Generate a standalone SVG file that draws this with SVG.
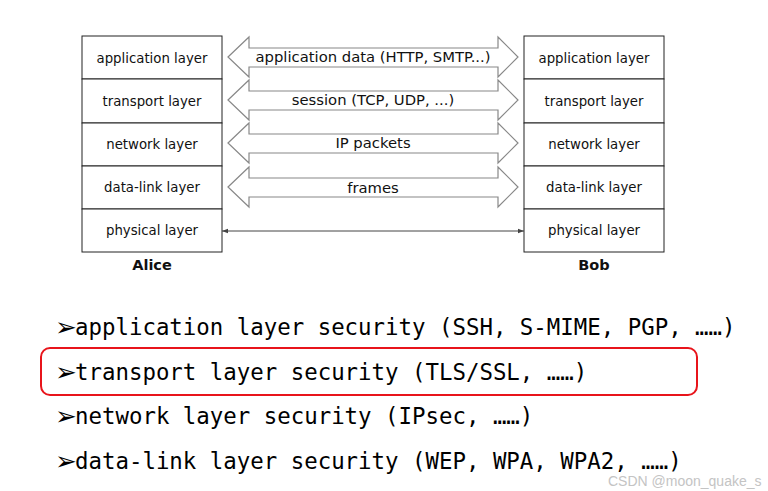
<svg xmlns="http://www.w3.org/2000/svg" width="768" height="491" viewBox="0 0 768 491">
<style>
.box{fill:#fff;stroke:#222;stroke-width:1}
.lt{font-family:"DejaVu Sans","Liberation Sans",sans-serif;font-size:13.3px;fill:#111;text-anchor:middle}
.nm{font-family:"DejaVu Sans","Liberation Sans",sans-serif;font-size:14.5px;font-weight:bold;fill:#111;text-anchor:middle}
.arr{fill:#fff;stroke:#888;stroke-width:1.2}
.al{font-family:"DejaVu Sans","Liberation Sans",sans-serif;font-size:14.8px;fill:#111;text-anchor:middle}
.mono{font-family:"DejaVu Sans Mono","Liberation Mono",monospace;font-size:22.4px;fill:#000}
.bul{font-family:"DejaVu Sans",sans-serif;font-size:26px;fill:#000}
</style>
<defs>
<marker id="ah" viewBox="0 0 6 6" refX="6" refY="3" markerWidth="6" markerHeight="6" orient="auto-start-reverse" markerUnits="userSpaceOnUse">
<path d="M0,0.8 L6,3 L0,5.2 Z" fill="#444"/>
</marker>
</defs>
<rect width="768" height="491" fill="#fff"/>
<g id="alice">
<rect class="box" x="82" y="36" width="140" height="43"/>
<rect class="box" x="82" y="79" width="140" height="44"/>
<rect class="box" x="82" y="123" width="140" height="43"/>
<rect class="box" x="82" y="166" width="140" height="43"/>
<rect class="box" x="82" y="209" width="140" height="43"/>
<text class="lt" x="152" y="63">application layer</text>
<text class="lt" x="152" y="106">transport layer</text>
<text class="lt" x="152" y="149">network layer</text>
<text class="lt" x="152" y="192">data-link layer</text>
<text class="lt" x="152" y="235">physical layer</text>
<text class="nm" x="152" y="270">Alice</text>
</g>
<g id="bob">
<rect class="box" x="524" y="36" width="140" height="43"/>
<rect class="box" x="524" y="79" width="140" height="44"/>
<rect class="box" x="524" y="123" width="140" height="43"/>
<rect class="box" x="524" y="166" width="140" height="43"/>
<rect class="box" x="524" y="209" width="140" height="43"/>
<text class="lt" x="594" y="63">application layer</text>
<text class="lt" x="594" y="106">transport layer</text>
<text class="lt" x="594" y="149">network layer</text>
<text class="lt" x="594" y="192">data-link layer</text>
<text class="lt" x="594" y="235">physical layer</text>
<text class="nm" x="594" y="270">Bob</text>
</g>
<g id="connectors">
<polygon class="arr" points="228,57 249,37 249,48 498,48 498,37 518,57 498,77 498,67 249,67 249,77"/>
<polygon class="arr" points="228,100 249,80 249,91 498,91 498,80 518,100 498,120 498,110 249,110 249,120"/>
<polygon class="arr" points="228,143 249,123 249,134 498,134 498,123 518,143 498,163 498,153 249,153 249,163"/>
<polygon class="arr" points="228,187 249,167 249,178 498,178 498,167 518,187 498,207 498,197 249,197 249,207"/>
<line x1="222" y1="231" x2="524" y2="231" stroke="#444" stroke-width="1" marker-start="url(#ah)" marker-end="url(#ah)"/>
<text class="al" x="373" y="62">application data (HTTP, SMTP...)</text>
<text class="al" x="373" y="105">session (TCP, UDP, ...)</text>
<text class="al" x="373" y="148">IP packets</text>
<text class="al" x="373" y="193">frames</text>
</g>
<g id="list">
<text class="bul" x="55" y="336">➢</text>
<text class="mono" x="75" y="335">application layer security (SSH, S-MIME, PGP, ……)</text>
<text class="bul" x="55" y="381">➢</text>
<text class="mono" x="75" y="380">transport layer security (TLS/SSL, ……)</text>
<text class="bul" x="55" y="425">➢</text>
<text class="mono" x="75" y="424">network layer security (IPsec, ……)</text>
<text class="bul" x="55" y="470">➢</text>
<text class="mono" x="75" y="469">data-link layer security (WEP, WPA, WPA2, ……)</text>
</g>
<rect id="highlight" x="41" y="348" width="656" height="47" rx="9" fill="none" stroke="#e8141b" stroke-width="2"/>
<text x="608" y="486" font-family="'Liberation Sans','DejaVu Sans',sans-serif" font-size="14" fill="#c4c4c4">CSDN @moon_quake_s</text>
</svg>
